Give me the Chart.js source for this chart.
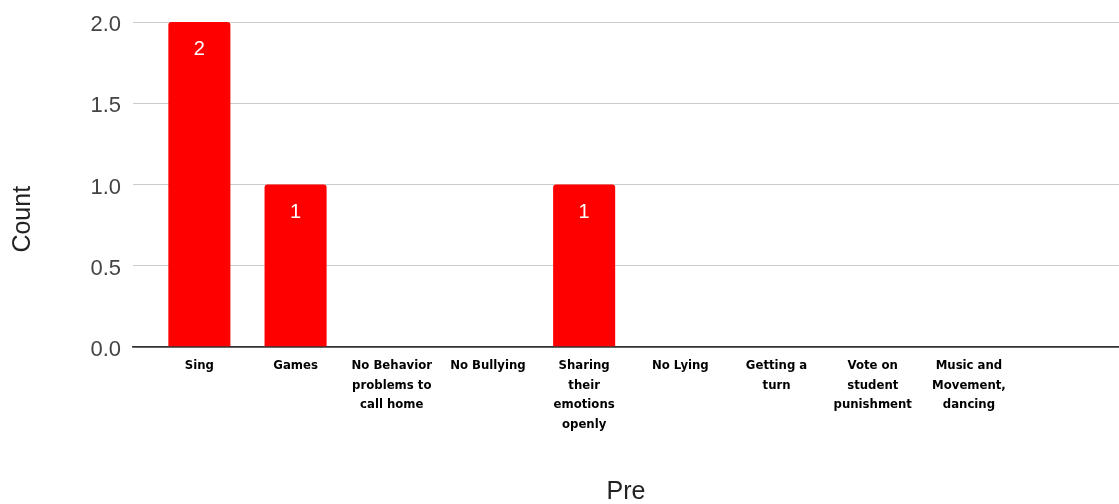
<!DOCTYPE html>
<html>
<head>
<meta charset="utf-8">
<script src="https://cdn.jsdelivr.net/npm/chart.js@4/dist/chart.umd.min.js"></script>
<style>
  html, body { margin: 0; padding: 0; background: #fff; }
  #wrap { width: 1119px; height: 504px; position: relative; }
</style>
</head>
<body>
<div id="wrap"><canvas id="c"></canvas></div>
<script>
// Responses collected before the programme ("Pre")
const categories = [
  ["Sing"],
  ["Games"],
  ["No Behavior", "problems to", "call home"],
  ["No Bullying"],
  ["Sharing", "their", "emotions", "openly"],
  ["No Lying"],
  ["Getting a", "turn"],
  ["Vote on", "student", "punishment"],
  ["Music and", "Movement,", "dancing"]
];
const counts = [2, 1, 0, 0, 1, 0, 0, 0, 0];
const yTicks = [0, 0.5, 1, 1.5, 2];

const points = counts.map((v, i) => ({ x: i, y: v }));

// White value labels inside the top of each bar
const valueLabels = {
  id: 'valueLabels',
  afterDatasetsDraw(chart) {
    const ctx = chart.ctx;
    const meta = chart.getDatasetMeta(0);
    ctx.save();
    ctx.fillStyle = '#ffffff';
    ctx.font = "20px 'Liberation Sans', Arial, sans-serif";
    ctx.textAlign = 'center';
    ctx.textBaseline = 'middle';
    meta.data.forEach((bar, i) => {
      const v = counts[i];
      if (!v) return;
      ctx.fillText(String(v), bar.x, bar.y + 27.5);
    });
    ctx.restore();
  }
};

new Chart(document.getElementById('c'), {
  type: 'bar',
  data: {
    datasets: [{
      label: 'Count',
      data: points,
      backgroundColor: '#ff0000',
      borderWidth: 0,
      borderRadius: 3,
      barPercentage: 0.645,
      categoryPercentage: 1
    }]
  },
  options: {
    responsive: true,
    maintainAspectRatio: false,
    animation: false,
    layout: { padding: { top: 22, right: 0, left: 0, bottom: 0 } },
    plugins: {
      legend: { display: false },
      tooltip: { enabled: false }
    },
    scales: {
      x: {
        type: 'linear',
        offset: false,
        min: -0.69,
        max: 9.56,
        afterBuildTicks(scale) {
          scale.ticks = categories.map((_, i) => ({ value: i }));
        },
        afterFit(scale) { scale.height = 157; },
        ticks: {
          autoSkip: false,
          maxRotation: 0,
          minRotation: 0,
          padding: 9,
          color: '#000',
          font: { family: "'DejaVu Sans Condensed', 'Liberation Sans Narrow', sans-serif", size: 13, weight: 'bold', lineHeight: 1.5 },
          callback: (value) => categories[value] || ''
        },
        grid: { display: false, drawTicks: false },
        border: { display: true, color: '#333', width: 1.5 },
        title: {
          display: true,
          text: 'Pre',
          color: '#222',
          font: { family: "'Liberation Sans', Arial, sans-serif", size: 25 },
          padding: { top: 0, bottom: -3 }
        }
      },
      y: {
        min: 0,
        max: 2,
        afterBuildTicks(scale) {
          scale.ticks = yTicks.map(v => ({ value: v }));
        },
        afterFit(scale) { scale.width = 133; },
        ticks: {
          padding: 12,
          labelOffset: 3,
          color: '#444',
          font: { family: "'Liberation Sans', Arial, sans-serif", size: 22, lineHeight: 0.8 },
          callback: (v) => Number(v).toFixed(1)
        },
        grid: {
          drawTicks: false,
          color: (c) => (c.tick && c.tick.value === 0) ? '#333' : '#cccccc',
          lineWidth: (c) => (c.tick && c.tick.value === 0) ? 1.5 : 1
        },
        border: { display: false },
        title: {
          display: true,
          text: 'Count          ',
          color: '#222',
          font: { family: "'Liberation Sans', Arial, sans-serif", size: 25 },
          padding: { top: 8, bottom: 0 }
        }
      }
    }
  },
  plugins: [valueLabels]
});
</script>
</body>
</html>
